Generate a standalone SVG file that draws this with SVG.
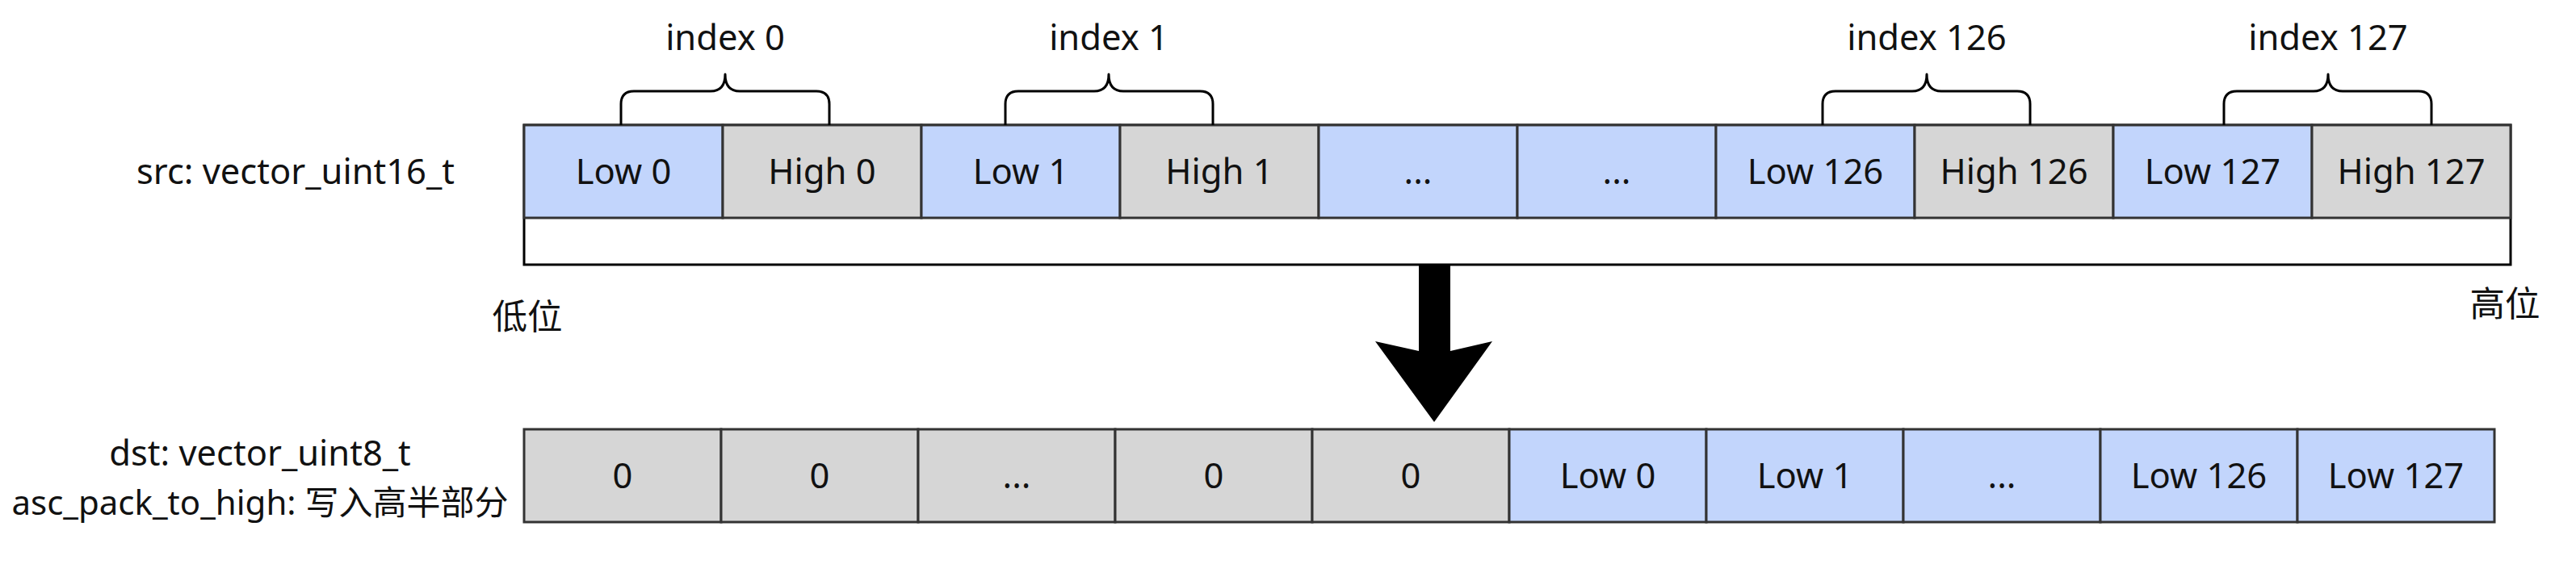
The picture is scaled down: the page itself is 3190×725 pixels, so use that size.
<svg xmlns="http://www.w3.org/2000/svg" width="3190" height="725" viewBox="0 0 3190 725">
<style>
text{font-family:"Noto Sans","Noto Sans CJK SC",sans-serif;font-size:43.5px;fill:#111;}
.c{text-anchor:middle;}
.sm{font-size:42px;}
.blue{fill:#C2D5FC;stroke:#333;stroke-width:3;}
.gray{fill:#D6D6D6;stroke:#333;stroke-width:3;}
.brace{fill:none;stroke:#000;stroke-width:3;stroke-linejoin:round;}
</style>
<rect width="3190" height="725" fill="#fff"/>
<g id="src-outer"><rect x="649" y="155" width="2460" height="173" fill="#fff" stroke="#000" stroke-width="3"/></g>
<g id="src-row">
<g id="s0"><rect class="blue" x="649" y="155" width="246" height="115"/><text class="c" x="772" y="228">Low 0</text></g>
<g id="s1"><rect class="gray" x="895" y="155" width="246" height="115"/><text class="c" x="1018" y="228">High 0</text></g>
<g id="s2"><rect class="blue" x="1141" y="155" width="246" height="115"/><text class="c" x="1264" y="228">Low 1</text></g>
<g id="s3"><rect class="gray" x="1387" y="155" width="246" height="115"/><text class="c" x="1510" y="228">High 1</text></g>
<g id="s4"><rect class="blue" x="1633" y="155" width="246" height="115"/><text class="c" x="1756" y="228">...</text></g>
<g id="s5"><rect class="blue" x="1879" y="155" width="246" height="115"/><text class="c" x="2002" y="228">...</text></g>
<g id="s6"><rect class="blue" x="2125" y="155" width="246" height="115"/><text class="c" x="2248" y="228">Low 126</text></g>
<g id="s7"><rect class="gray" x="2371" y="155" width="246" height="115"/><text class="c" x="2494" y="228">High 126</text></g>
<g id="s8"><rect class="blue" x="2617" y="155" width="246" height="115"/><text class="c" x="2740" y="228">Low 127</text></g>
<g id="s9"><rect class="gray" x="2863" y="155" width="246" height="115"/><text class="c" x="2986" y="228">High 127</text></g>
</g>
<g id="braces">
<g id="b0"><path class="brace" d="M769 155 V129 Q769 113 785 113 H880 Q898 113 898 92 Q898 113 916 113 H1011 Q1027 113 1027 129 V155"/><text class="c" x="898" y="62">index 0</text></g>
<g id="b1"><path class="brace" d="M1245 155 V129 Q1245 113 1261 113 H1355 Q1373 113 1373 92 Q1373 113 1391 113 H1486 Q1502 113 1502 129 V155"/><text class="c" x="1373" y="62">index 1</text></g>
<g id="b126"><path class="brace" d="M2257 155 V129 Q2257 113 2273 113 H2368 Q2386 113 2386 92 Q2386 113 2404 113 H2498 Q2514 113 2514 129 V155"/><text class="c" x="2386" y="62">index 126</text></g>
<g id="b127"><path class="brace" d="M2754 155 V129 Q2754 113 2770 113 H2865 Q2883 113 2883 92 Q2883 113 2901 113 H2995 Q3011 113 3011 129 V155"/><text class="c" x="2883" y="62">index 127</text></g>
</g>
<g id="labels">
<text class="c" x="366" y="228">src: vector_uint16_t</text>
<text class="c" x="653" y="408">低位</text>
<text class="c" x="3102" y="392">高位</text>
<text class="c" x="322" y="577">dst: vector_uint8_t</text>
<text class="c sm" x="322" y="638">asc_pack_to_high: 写入高半部分</text>
</g>
<g id="connectors">
<polygon points="1757,329 1796,329 1796,435 1848,423 1776,523 1703,423 1757,435" fill="#000"/>
</g>
<g id="dst-row">
<g id="d0"><rect class="gray" x="649" y="532" width="244" height="115"/><text class="c" x="771" y="605">0</text></g>
<g id="d1"><rect class="gray" x="893" y="532" width="244" height="115"/><text class="c" x="1015" y="605">0</text></g>
<g id="d2"><rect class="gray" x="1137" y="532" width="244" height="115"/><text class="c" x="1259" y="605">...</text></g>
<g id="d3"><rect class="gray" x="1381" y="532" width="244" height="115"/><text class="c" x="1503" y="605">0</text></g>
<g id="d4"><rect class="gray" x="1625" y="532" width="244" height="115"/><text class="c" x="1747" y="605">0</text></g>
<g id="d5"><rect class="blue" x="1869" y="532" width="244" height="115"/><text class="c" x="1991" y="605">Low 0</text></g>
<g id="d6"><rect class="blue" x="2113" y="532" width="244" height="115"/><text class="c" x="2235" y="605">Low 1</text></g>
<g id="d7"><rect class="blue" x="2357" y="532" width="244" height="115"/><text class="c" x="2479" y="605">...</text></g>
<g id="d8"><rect class="blue" x="2601" y="532" width="244" height="115"/><text class="c" x="2723" y="605">Low 126</text></g>
<g id="d9"><rect class="blue" x="2845" y="532" width="244" height="115"/><text class="c" x="2967" y="605">Low 127</text></g>
</g>
</svg>
